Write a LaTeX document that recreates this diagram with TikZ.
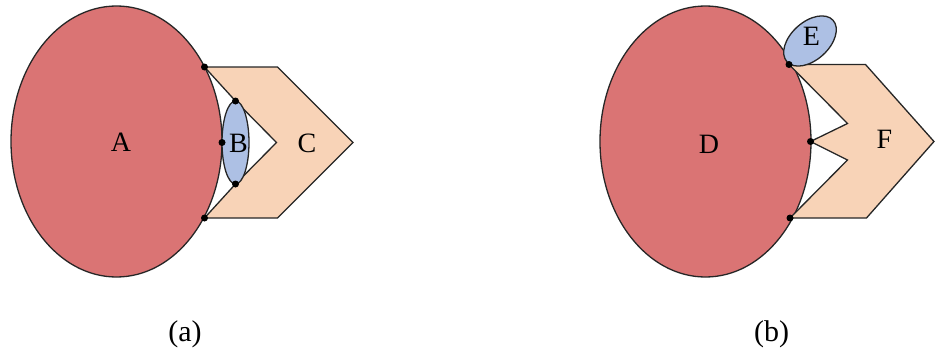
\documentclass[tikz,border=0pt]{standalone}
\usepackage{fontspec}
\setmainfont{Liberation Serif}
\usetikzlibrary{shapes.geometric}
\definecolor{redfill}{RGB}{218,116,116}
\definecolor{peach}{RGB}{248,211,183}
\definecolor{bluefill}{RGB}{173,192,228}
\tikzset{
  shp/.style={draw=black!85, line width=1.3pt, line join=miter},
  bigell/.style={shp, ellipse, fill=redfill, minimum width=211pt, minimum height=271pt, inner sep=0pt},
  smallell/.style={shp, ellipse, fill=bluefill, inner sep=0pt},
  poly/.style={shp, fill=peach},
  dotnode/.style={circle, fill=black, inner sep=0pt, minimum size=7pt},
  lab/.style={font=\fontsize{28}{32}\selectfont, inner sep=0pt},
  captxt/.style={font=\fontsize{30}{34}\selectfont, inner sep=0pt}
}
\begin{document}
\begin{tikzpicture}[x=1pt,y=-1pt]
\useasboundingbox (0,0) rectangle (935,356);
% ---------- (a) ----------
\node[bigell] (A) at (116.5,141.5) {};
\coordinate (a1) at (204.5,67);
\coordinate (a2) at (204.5,218);
\coordinate (a3) at (222,142.5);
\coordinate (b1) at (235.5,101);
\coordinate (b2) at (235.5,184);
\coordinate (c1) at (277.5,67);
\coordinate (c2) at (353,142.5);
\coordinate (c3) at (277.5,218);
\coordinate (c4) at (276.5,142.5);
\draw[poly] (a1) -- (c1) -- (c2) -- (c3) -- (a2) -- (b2) -- (c4) -- (b1) -- cycle;
\node[smallell, minimum width=27pt, minimum height=83pt] (B) at (235.5,142.5) {};
\node[dotnode] (pa1) at (a1) {};
\node[dotnode] (pa2) at (a2) {};
\node[dotnode] (pa3) at (a3) {};
\node[dotnode] (pb1) at (b1) {};
\node[dotnode] (pb2) at (b2) {};
\node[lab] (Alab) at (121,142) {A};
\node[lab] (Blab) at (238.5,143.5) {B};
\node[lab] (Clab) at (307,143.5) {C};
\node[captxt] (capa) at (185,334) {(a)};
% ---------- (b) ----------
\node[bigell] (D) at (705.5,141.5) {};
\coordinate (e1) at (789,64.5);
\coordinate (d2) at (790,218);
\coordinate (m) at (810.5,141.5);
\coordinate (f1) at (865.5,64.5);
\coordinate (f2) at (934,141.5);
\coordinate (f3) at (866.5,218);
\coordinate (f4) at (847.5,160);
\coordinate (f5) at (847.5,123.5);
\draw[poly] (e1) -- (f1) -- (f2) -- (f3) -- (d2) -- (f4) -- (m) -- (f5) -- cycle;
\node[smallell, minimum width=62pt, minimum height=38pt, rotate=42] (E) at (810,41) {};
\node[dotnode] (pe1) at (e1) {};
\node[dotnode] (pd2) at (d2) {};
\node[dotnode] (pm) at (m) {};
\node[lab] (Dlab) at (709,144) {D};
\node[lab] (Elab) at (811.5,36.5) {E};
\node[lab] (Flab) at (884.5,139.5) {F};
\node[captxt] (capb) at (771.5,334) {(b)};
\end{tikzpicture}
\end{document}
